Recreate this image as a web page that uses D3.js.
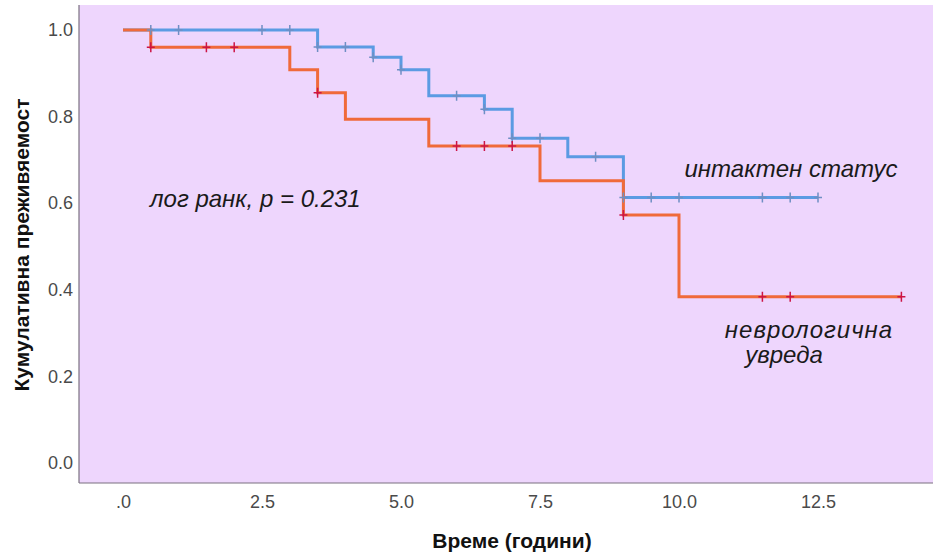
<!DOCTYPE html>
<html>
<head>
<meta charset="utf-8">
<script src="https://cdn.jsdelivr.net/npm/d3@7"></script>
<style>
  body { margin: 0; background: #fff; }
  svg { display: block; font-family: "Liberation Sans", Arial, sans-serif; }
  .tick text { fill: #4a4a4a; font-size: 18px; }
  .note { font-style: italic; font-size: 24px; fill: #1a1a1a; }
  .axis-title { font-weight: bold; font-size: 21px; fill: #111; }
</style>
</head>
<body>
<svg id="km"></svg>
<script>
/* DATA */
// интактен статус
var intactTimes = [0, 3.5, 4.5, 5.0, 5.5, 6.5, 7.0, 8.0, 9.0];
var intactSurv = [1.0, 0.961, 0.937, 0.908, 0.848, 0.817, 0.750, 0.707, 0.613];
var intactEnd = 12.5;
var intactCensor = [0.5, 1.0, 2.5, 3.0, 3.5, 4.0, 4.5, 5.0, 6.0, 6.5, 7.0, 7.5, 8.5, 9.0, 9.5, 10.0, 11.5, 12.0, 12.5];

// неврологична увреда
var neuroTimes = [0, 0.5, 3.0, 3.5, 4.0, 5.5, 7.5, 9.0, 10.0];
var neuroSurv = [1.0, 0.960, 0.908, 0.855, 0.794, 0.732, 0.652, 0.573, 0.384];
var neuroEnd = 14;
var neuroCensor = [0.5, 1.5, 2.0, 3.5, 6.0, 6.5, 7.0, 9.0, 11.5, 12.0, 14.0];

var xTicks = [0, 2.5, 5.0, 7.5, 10.0, 12.5];
var yTicks = [0, 0.2, 0.4, 0.6, 0.8, 1.0];

/* SETUP */
var width = 933;
var height = 556;
var plotLeft = 79, plotTop = 5, plotW = 854, plotH = 478;

var svg = d3.select("svg#km")
  .attr("width", width)
  .attr("height", height);

var x = d3.scaleLinear().domain([0, 12.5]).range([44, 739]);
var y = d3.scaleLinear().domain([0, 1]).range([458, 25]);

var plot = svg.append("g").attr("transform", translate(plotLeft, plotTop));

plot.append("rect")
  .attr("width", plotW)
  .attr("height", plotH)
  .attr("fill", "#eed6fd");

// axes lines (left + bottom only)
plot.append("line").attr("x1", 0).attr("x2", 0).attr("y1", 0).attr("y2", plotH)
  .attr("stroke", "#7a7080").attr("stroke-width", 1.2);
plot.append("line").attr("x1", 0).attr("x2", plotW).attr("y1", plotH).attr("y2", plotH)
  .attr("stroke", "#7a7080").attr("stroke-width", 1.2);

var xAxis = d3.axisBottom(x)
  .tickValues(xTicks)
  .tickSize(0)
  .tickPadding(12)
  .tickFormat(d => d === 0 ? ".0" : d3.format(".1f")(d));

plot.append("g")
  .attr("transform", translate(0, plotH))
  .call(xAxis)
  .call(g => g.select(".domain").remove());

var yAxis = d3.axisLeft(y)
  .tickValues(yTicks)
  .tickSize(0)
  .tickPadding(6)
  .tickFormat(d3.format(".1f"));

plot.append("g")
  .call(yAxis)
  .call(g => g.select(".domain").remove());

/* CURVES */
function stepData(times, surv, end) {
  var pts = times.map((t, i) => [t, surv[i]]);
  pts.push([end, surv[surv.length - 1]]);
  return pts;
}

function survAt(times, surv, t) {
  var i = d3.bisectRight(times, t) - 1;
  return surv[Math.max(0, i)];
}

var line = d3.line()
  .x(d => x(d[0]))
  .y(d => y(d[1]))
  .curve(d3.curveStepAfter);

drawCurve(stepData(intactTimes, intactSurv, intactEnd), "#5b9be3");
drawCurve(stepData(neuroTimes, neuroSurv, neuroEnd), "#f06a3a");

drawCensor(intactCensor.map(t => [t, survAt(intactTimes, intactSurv, t)]), "#6f8fc4");
drawCensor(neuroCensor.map(t => [t, survAt(neuroTimes, neuroSurv, t)]), "#cc1446");

function drawCurve(data, color) {
  plot.append("path")
    .datum(data)
    .attr("d", line)
    .attr("fill", "none")
    .attr("stroke", color)
    .attr("stroke-width", 3);
}

function drawCensor(points, color) {
  var g = plot.append("g");
  g.selectAll("path")
    .data(points)
    .enter()
    .append("path")
    .attr("d", d => {
      var cx = x(d[0]), cy = y(d[1]);
      return "M" + (cx - 4) + "," + cy + "H" + (cx + 4) + "M" + cx + "," + (cy - 5) + "V" + (cy + 5);
    })
    .attr("stroke", color)
    .attr("stroke-width", 1.5);
}

/* ANNOTATIONS */
plot.append("text").attr("class", "note")
  .attr("x", 150 - plotLeft).attr("y", 207 - plotTop)
  .text("лог ранк, p = 0.231");

plot.append("text").attr("class", "note")
  .attr("x", 791 - plotLeft).attr("y", 177 - plotTop)
  .attr("text-anchor", "middle")
  .text("интактен статус");

plot.append("text").attr("class", "note")
  .attr("x", 809 - plotLeft).attr("y", 338 - plotTop)
  .attr("text-anchor", "middle")
  .attr("letter-spacing", 1)
  .text("неврологична");

plot.append("text").attr("class", "note")
  .attr("x", 784 - plotLeft).attr("y", 363 - plotTop)
  .attr("text-anchor", "middle")
  .text("увреда");

/* AXIS TITLES */
svg.append("text").attr("class", "axis-title")
  .attr("x", 512).attr("y", 548)
  .attr("text-anchor", "middle")
  .text("Време (години)");

svg.append("text").attr("class", "axis-title")
  .attr("transform", translate(29, 245) + " rotate(-90)")
  .attr("text-anchor", "middle")
  .text("Кумулативна преживяемост");

/* HELPER FUNCTION */
function translate(x, y) {
  return 'translate(' + String(x) + ',' + String(y) + ')';
}
</script>
</body>
</html>
